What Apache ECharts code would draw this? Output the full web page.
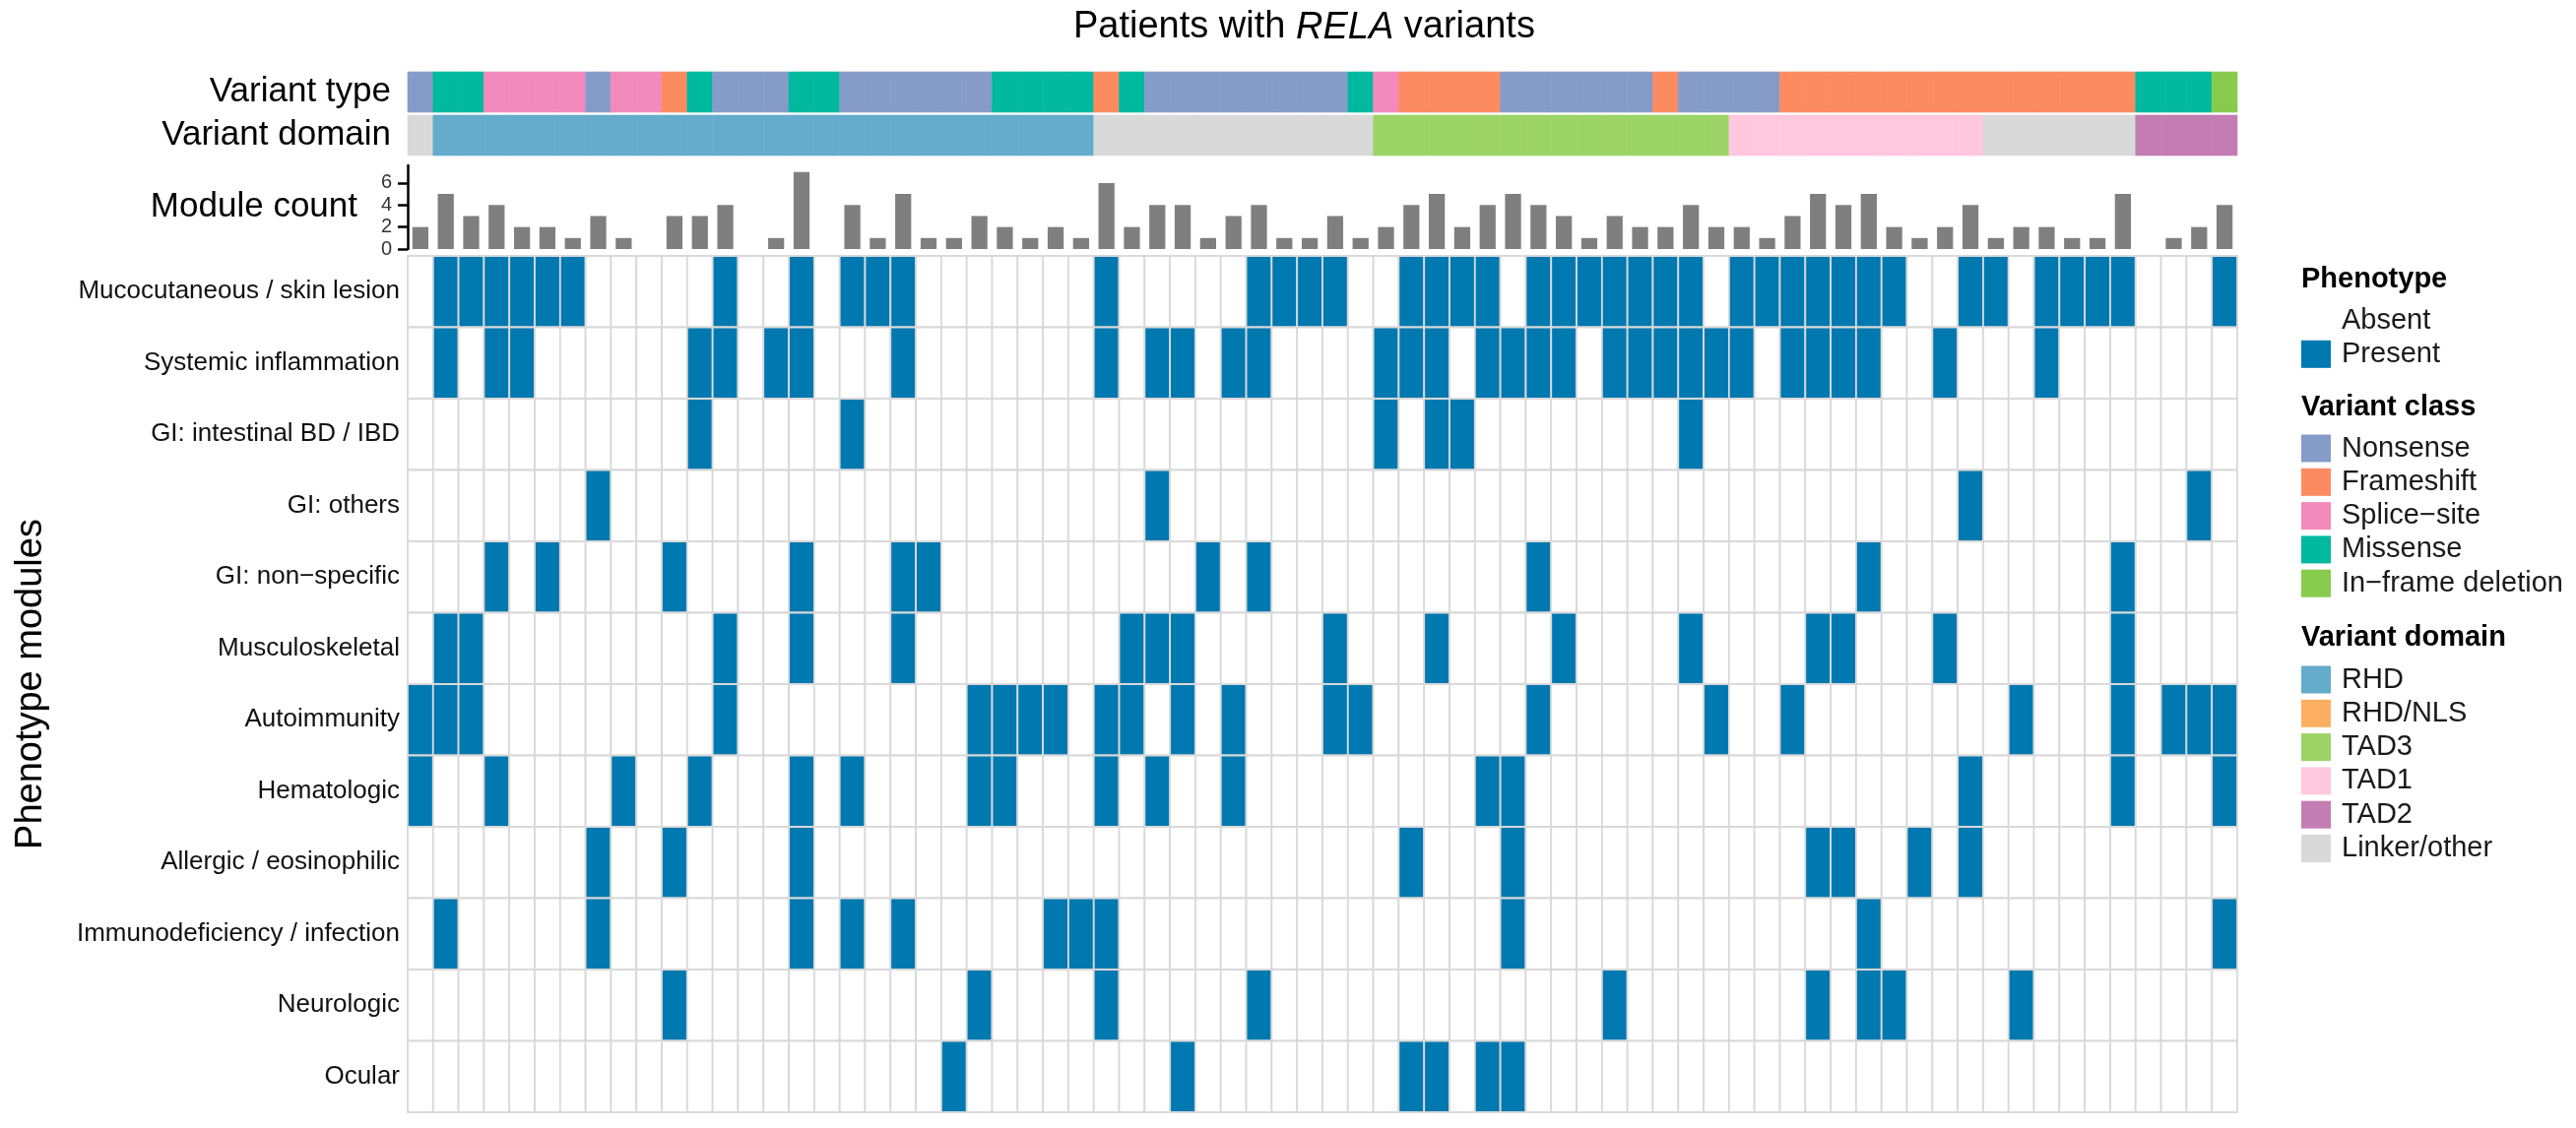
<!DOCTYPE html>
<html>
<head>
<meta charset="utf-8">
<script src="https://cdn.jsdelivr.net/npm/echarts@6/dist/echarts.min.js"></script>
<style>
html,body{margin:0;padding:0;background:#ffffff;}
#chart{width:2616px;height:1146px;}
</style>
</head>
<body>
<div id="chart"></div>
<script>
// ---------------- DATA ----------------
const patientIds = ['P01','P02','P03','P04','P05','P06','P07','P08','P09','P10','P11','P12',
  'P13','P14','P15','P16','P17','P18','P19','P20','P21','P22','P23','P24',
  'P25','P26','P27','P28','P29','P30','P31','P32','P33','P34','P35','P36',
  'P37','P38','P39','P40','P41','P42','P43','P44','P45','P46','P47','P48',
  'P49','P50','P51','P52','P53','P54','P55','P56','P57','P58','P59','P60',
  'P61','P62','P63','P64','P65','P66','P67','P68','P69','P70','P71','P72'];

const moduleNames = ['Mucocutaneous / skin lesion','Systemic inflammation','GI: intestinal BD / IBD',
  'GI: others','GI: non\u2212specific','Musculoskeletal','Autoimmunity','Hematologic',
  'Allergic / eosinophilic','Immunodeficiency / infection','Neurologic','Ocular'];

// variant class per patient: N=Nonsense F=Frameshift S=Splice-site M=Missense I=In-frame deletion
const variantType = ['N','M','M','S','S','S','S','N','S','S','F','M',
  'N','N','N','M','M','N','N','N','N','N','N','M',
  'M','M','M','F','M','N','N','N','N','N','N','N',
  'N','M','S','F','F','F','F','N','N','N','N','N',
  'N','F','N','N','N','N','F','F','F','F','F','F',
  'F','F','F','F','F','F','F','F','M','M','M','I'];

// variant domain per patient
const variantDomain = ['Linker','RHD','RHD','RHD','RHD','RHD','RHD','RHD','RHD','RHD','RHD','RHD',
  'RHD','RHD','RHD','RHD','RHD','RHD','RHD','RHD','RHD','RHD','RHD','RHD',
  'RHD','RHD','RHD','Linker','Linker','Linker','Linker','Linker','Linker','Linker','Linker','Linker',
  'Linker','Linker','TAD3','TAD3','TAD3','TAD3','TAD3','TAD3','TAD3','TAD3','TAD3','TAD3',
  'TAD3','TAD3','TAD3','TAD3','TAD1','TAD1','TAD1','TAD1','TAD1','TAD1','TAD1','TAD1',
  'TAD1','TAD1','Linker','Linker','Linker','Linker','Linker','Linker','TAD2','TAD2','TAD2','TAD2'];

const moduleCount = [2,5,3,4,2,2,1,3,1,0,3,3,
  4,0,1,7,0,4,1,5,1,1,3,2,
  1,2,1,6,2,4,4,1,3,4,1,1,
  3,1,2,4,5,2,4,5,4,3,1,3,
  2,2,4,2,2,1,3,5,4,5,2,1,
  2,4,1,2,2,1,1,5,0,1,2,4];

// phenotype presence (1 = Present, 0 = Absent), one array per module
const mucocutaneous = [0,1,1,1,1,1,1,0,0,0,0,0, 1,0,0,1,0,1,1,1,0,0,0,0, 0,0,0,1,0,0,0,0,0,1,1,1, 1,0,0,1,1,1,1,0,1,1,1,1, 1,1,1,0,1,1,1,1,1,1,1,0, 0,1,1,0,1,1,1,1,0,0,0,1];
const systemicInflammation = [0,1,0,1,1,0,0,0,0,0,0,1, 1,0,1,1,0,0,0,1,0,0,0,0, 0,0,0,1,0,1,1,0,1,1,0,0, 0,0,1,1,1,0,1,1,1,1,0,1, 1,1,1,1,1,0,1,1,1,1,0,0, 1,0,0,0,1,0,0,0,0,0,0,0];
const giIntestinalBD = [0,0,0,0,0,0,0,0,0,0,0,1, 0,0,0,0,0,1,0,0,0,0,0,0, 0,0,0,0,0,0,0,0,0,0,0,0, 0,0,1,0,1,1,0,0,0,0,0,0, 0,0,1,0,0,0,0,0,0,0,0,0, 0,0,0,0,0,0,0,0,0,0,0,0];
const giOthers = [0,0,0,0,0,0,0,1,0,0,0,0, 0,0,0,0,0,0,0,0,0,0,0,0, 0,0,0,0,0,1,0,0,0,0,0,0, 0,0,0,0,0,0,0,0,0,0,0,0, 0,0,0,0,0,0,0,0,0,0,0,0, 0,1,0,0,0,0,0,0,0,0,1,0];
const giNonSpecific = [0,0,0,1,0,1,0,0,0,0,1,0, 0,0,0,1,0,0,0,1,1,0,0,0, 0,0,0,0,0,0,0,1,0,1,0,0, 0,0,0,0,0,0,0,0,1,0,0,0, 0,0,0,0,0,0,0,0,0,1,0,0, 0,0,0,0,0,0,0,1,0,0,0,0];
const musculoskeletal = [0,1,1,0,0,0,0,0,0,0,0,0, 1,0,0,1,0,0,0,1,0,0,0,0, 0,0,0,0,1,1,1,0,0,0,0,0, 1,0,0,0,1,0,0,0,0,1,0,0, 0,0,1,0,0,0,0,1,1,0,0,0, 1,0,0,0,0,0,0,1,0,0,0,0];
const autoimmunity = [1,1,1,0,0,0,0,0,0,0,0,0, 1,0,0,0,0,0,0,0,0,0,1,1, 1,1,0,1,1,0,1,0,1,0,0,0, 1,1,0,0,0,0,0,0,1,0,0,0, 0,0,0,1,0,0,1,0,0,0,0,0, 0,0,0,1,0,0,0,1,0,1,1,1];
const hematologic = [1,0,0,1,0,0,0,0,1,0,0,1, 0,0,0,1,0,1,0,0,0,0,1,1, 0,0,0,1,0,1,0,0,1,0,0,0, 0,0,0,0,0,0,1,1,0,0,0,0, 0,0,0,0,0,0,0,0,0,0,0,0, 0,1,0,0,0,0,0,1,0,0,0,1];
const allergicEosinophilic = [0,0,0,0,0,0,0,1,0,0,1,0, 0,0,0,1,0,0,0,0,0,0,0,0, 0,0,0,0,0,0,0,0,0,0,0,0, 0,0,0,1,0,0,0,1,0,0,0,0, 0,0,0,0,0,0,0,1,1,0,0,1, 0,1,0,0,0,0,0,0,0,0,0,0];
const immunodeficiency = [0,1,0,0,0,0,0,1,0,0,0,0, 0,0,0,1,0,1,0,1,0,0,0,0, 0,1,1,1,0,0,0,0,0,0,0,0, 0,0,0,0,0,0,0,1,0,0,0,0, 0,0,0,0,0,0,0,0,0,1,0,0, 0,0,0,0,0,0,0,0,0,0,0,1];
const neurologic = [0,0,0,0,0,0,0,0,0,0,1,0, 0,0,0,0,0,0,0,0,0,0,1,0, 0,0,0,1,0,0,0,0,0,1,0,0, 0,0,0,0,0,0,0,0,0,0,0,1, 0,0,0,0,0,0,0,1,0,1,1,0, 0,0,0,1,0,0,0,0,0,0,0,0];
const ocular = [0,0,0,0,0,0,0,0,0,0,0,0, 0,0,0,0,0,0,0,0,0,1,0,0, 0,0,0,0,0,0,1,0,0,0,0,0, 0,0,0,1,1,0,1,1,0,0,0,0, 0,0,0,0,0,0,0,0,0,0,0,0, 0,0,0,0,0,0,0,0,0,0,0,0];

const presenceRows = [mucocutaneous, systemicInflammation, giIntestinalBD, giOthers, giNonSpecific,
  musculoskeletal, autoimmunity, hematologic, allergicEosinophilic, immunodeficiency, neurologic, ocular];

const classNames = ['Nonsense','Frameshift','Splice\u2212site','Missense','In\u2212frame deletion'];
const classCodes = ['N','F','S','M','I'];
const domainNames = ['RHD','RHD/NLS','TAD3','TAD1','TAD2','Linker/other'];
const domainCodes = ['RHD','RHD/NLS','TAD3','TAD1','TAD2','Linker'];

// ---------------- STYLE ----------------
const classColors = {N:'#869CC8', F:'#FC8B62', S:'#F28BBC', M:'#00B99E', I:'#88CC4D'};
const domainColors = {'RHD':'#65ABCB','RHD/NLS':'#FDAE61','TAD3':'#9DD467','TAD1':'#FFC8DD','TAD2':'#C47DB3','Linker':'#D9D9D9'};
const PRESENT = '#0078B0';
const FONT = '"Liberation Sans", Arial, Helvetica, sans-serif';

const L = 414, GW = 1858;

// ---------------- BUILD ----------------
const heatCells = [];
presenceRows.forEach((row, r) => row.forEach((v, c) => heatCells.push([c, r, v])));
const typeCells = variantType.map((t, i) => [i, 0]);
const domainCells = variantDomain.map((d, i) => [i, 0]);

function cellRect(api) {
  const p = api.coord([api.value(0), api.value(1)]);
  const s = api.size([1, 1]);
  return {x: p[0] - s[0] / 2, y: p[1] - s[1] / 2, width: s[0], height: s[1]};
}

const hiddenX = (gi) => ({type:'category', gridIndex:gi, data:patientIds, boundaryGap:true,
  axisLine:{show:false}, axisTick:{show:false}, axisLabel:{show:false}, splitLine:{show:false}});

const legendSeries = [];
classNames.forEach((n, i) => legendSeries.push({name:n, type:'custom', xAxisIndex:3, yAxisIndex:3, data:[], renderItem:()=>null, itemStyle:{color:classColors[classCodes[i]]}}));
domainNames.forEach((n, i) => legendSeries.push({name:n, type:'custom', xAxisIndex:3, yAxisIndex:3, data:[], renderItem:()=>null, itemStyle:{color:domainColors[domainCodes[i]]}}));
legendSeries.push({name:'Absent', type:'custom', xAxisIndex:3, yAxisIndex:3, data:[], renderItem:()=>null, itemStyle:{color:'#ffffff'}});
legendSeries.push({name:'Present', type:'custom', xAxisIndex:3, yAxisIndex:3, data:[], renderItem:()=>null, itemStyle:{color:PRESENT}});

const legendCommon = {orient:'vertical', left:2337, itemWidth:30, itemHeight:28, itemGap:5.3, icon:'rect',
  selectedMode:false, padding:0, textStyle:{fontSize:29, lineHeight:28, color:'#1a1a1a', fontFamily:FONT, padding:[0,0,0,6]}};

const legendTitle = (text, top) => ({text:text, left:2337, top:top, padding:0,
  textStyle:{fontSize:29, fontWeight:'bold', color:'#000', fontFamily:FONT}});

const option = {
  animation:false,
  backgroundColor:'#ffffff',
  textStyle:{fontFamily:FONT},
  title:[
    {text:'{a|Patients with }{b|RELA}{a| variants}', left:1090, top:9, padding:0,
      textStyle:{fontWeight:'normal', fontSize:38, rich:{
        a:{fontSize:38, color:'#000', fontWeight:'normal', fontFamily:FONT},
        b:{fontSize:38, color:'#000', fontWeight:'normal', fontStyle:'italic', fontFamily:FONT}}}},
    legendTitle('Phenotype', 269),
    legendTitle('Variant class', 399),
    legendTitle('Variant domain', 633)
  ],
  legend:[
    Object.assign({}, legendCommon, {top:311, data:['Absent','Present']}),
    Object.assign({}, legendCommon, {top:441, data:classNames}),
    Object.assign({}, legendCommon, {top:676, data:domainNames})
  ],
  grid:[
    {left:L, width:GW, top:73, height:41},
    {left:L, width:GW, top:117, height:41},
    {left:L, width:GW, top:168, height:85},
    {left:L, width:GW, top:260, height:870}
  ],
  xAxis:[hiddenX(0), hiddenX(1), hiddenX(2), hiddenX(3)],
  yAxis:[
    {type:'category', gridIndex:0, data:['Variant type'], axisLine:{show:false}, axisTick:{show:false},
      axisLabel:{fontSize:35, color:'#000', margin:17, fontFamily:FONT}},
    {type:'category', gridIndex:1, data:['Variant domain'], axisLine:{show:false}, axisTick:{show:false},
      axisLabel:{fontSize:35, color:'#000', margin:17, fontFamily:FONT}},
    {type:'value', gridIndex:2, min:0, max:7.6, splitLine:{show:false},
      axisLine:{show:true, lineStyle:{color:'#000', width:2.5}},
      axisTick:{show:true, length:10, lineStyle:{color:'#000', width:2.5}, customValues:[0,2,4,6]},
      axisLabel:{fontSize:20, color:'#333', margin:16, customValues:[0,2,4,6], fontFamily:FONT},
      name:'Module count', nameLocation:'middle', nameRotate:0, nameGap:51,
      nameTextStyle:{fontSize:35, color:'#000', fontFamily:FONT}},
    {type:'category', gridIndex:3, data:moduleNames, inverse:true, axisLine:{show:false}, axisTick:{show:false},
      axisLabel:{fontSize:26, color:'#111', margin:8, fontFamily:FONT},
      name:'Phenotype modules', nameLocation:'middle', nameRotate:90, nameGap:363,
      nameTextStyle:{fontSize:38, color:'#000', fontFamily:FONT}}
  ],
  series:[
    {type:'custom', xAxisIndex:0, yAxisIndex:0, data:typeCells, silent:true,
      renderItem:(params, api) => {
        const col = classColors[variantType[params.dataIndex]];
        return {type:'rect', shape:cellRect(api), style:{fill:col, stroke:col, lineWidth:0.6}};
      }},
    {type:'custom', xAxisIndex:1, yAxisIndex:1, data:domainCells, silent:true,
      renderItem:(params, api) => {
        const col = domainColors[variantDomain[params.dataIndex]];
        return {type:'rect', shape:cellRect(api), style:{fill:col, stroke:col, lineWidth:0.6}};
      }},
    {type:'bar', xAxisIndex:2, yAxisIndex:2, data:moduleCount, barWidth:'63%', silent:true,
      itemStyle:{color:'#7F7F7F'}},
    {type:'custom', xAxisIndex:3, yAxisIndex:3, data:heatCells, silent:true,
      renderItem:(params, api) => ({type:'rect', shape:cellRect(api),
        style:{fill: api.value(2) ? PRESENT : '#ffffff', stroke:'#D9D9D9', lineWidth:1.8}})}
  ].concat(legendSeries)
};

const chart = echarts.init(document.getElementById('chart'), null, {renderer:'canvas'});
chart.setOption(option);
</script>
</body>
</html>
